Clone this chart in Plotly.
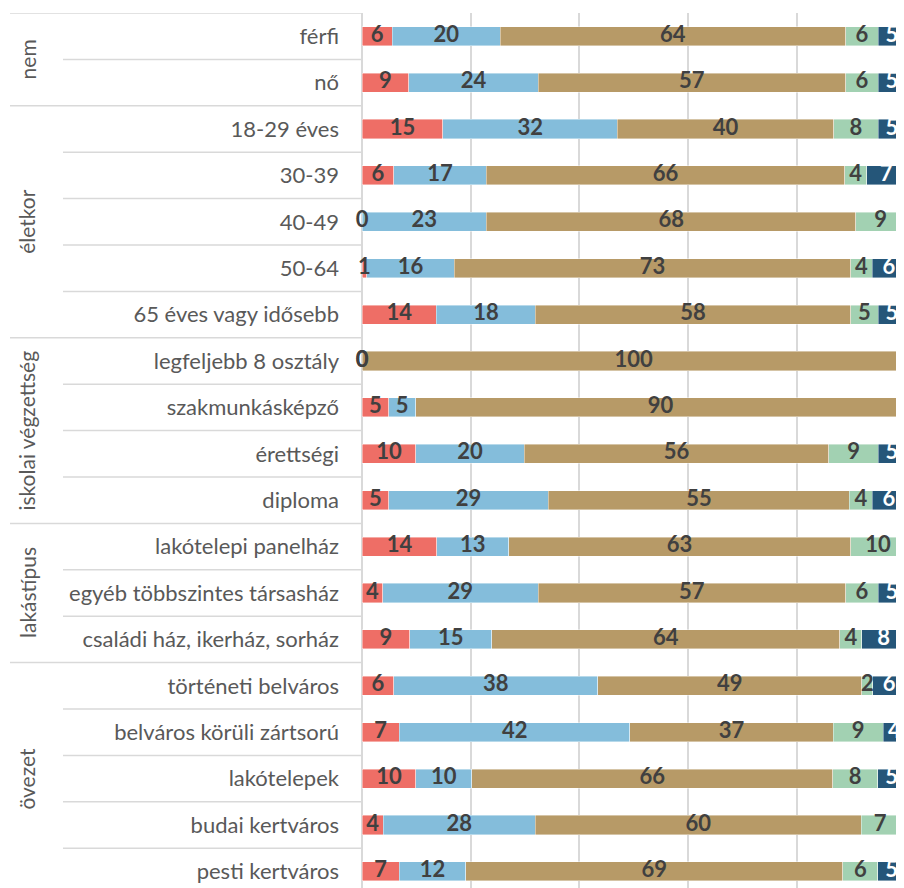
import plotly.graph_objects as go

# ---- data (segment sizes in %; labels are the rounded values) ----
groups = ["nem", "életkor", "iskolai végzettség", "lakástípus", "övezet"]
group_sizes = [2, 5, 4, 3, 5]
categories = [
    "férfi", "nő",
    "18-29 éves", "30-39", "40-49", "50-64", "65 éves vagy idősebb",
    "legfeljebb 8 osztály", "szakmunkásképző", "érettségi", "diploma",
    "lakótelepi panelház", "egyéb többszintes társasház", "családi ház, ikerház, sorház",
    "történeti belváros", "belváros körüli zártsorú", "lakótelepek", "budai kertváros", "pesti kertváros",
]
s1 = [5.6, 8.6, 14.9, 5.8, 0.0, 0.9, 13.7, 0.0, 4.9, 9.9, 4.9, 13.8, 3.8, 8.8, 5.8, 6.9, 9.9, 3.9, 6.9]
s2 = [19.8, 23.8, 32.1, 17.1, 22.9, 16.1, 18.2, 0.0, 5.0, 20.0, 29.4, 13.2, 28.6, 15.1, 37.6, 42.4, 10.3, 28.0, 12.2]
s3 = [63.6, 56.6, 39.8, 65.9, 68.0, 72.9, 58.0, 100.0, 90.1, 56.0, 55.4, 62.9, 56.6, 64.0, 48.6, 37.4, 66.4, 60.0, 69.4]
s4 = [6.0, 6.0, 8.2, 4.1, 9.1, 4.0, 5.1, 0.0, 0.0, 9.1, 4.2, 10.1, 6.0, 4.1, 2.0, 9.2, 8.3, 6.9, 6.4]
s5 = [5.0, 5.0, 5.0, 7.1, 0.0, 6.1, 5.0, 0.0, 0.0, 5.0, 6.1, 0.0, 5.0, 8.0, 6.0, 4.1, 5.1, 1.2, 5.1]
series = [s1, s2, s3, s4, s5]
colors = ["#EE6E66", "#84BDDB", "#B79A67", "#A2D1B2", "#255679"]
text_colors = ["#404040", "#404040", "#404040", "#404040", "#FFFFFF"]

# page body has an 8px margin; figure sized so it ends at the window edge
W, H = 896, 880
L, T = 354, 5
plot_w = W - L
px_per_unit = 5.434
row_h = 46.4

fig = go.Figure()
for vals, col in zip(series, colors):
    fig.add_trace(go.Bar(
        orientation="h", y=categories, x=vals,
        marker=dict(color=col, line=dict(color="rgba(255,255,255,0.6)", width=0.7)),
        hoverinfo="skip", showlegend=False,
    ))

# data labels centred on each segment (computed from the stacked values)
base = [0] * len(categories)
for vals, tcol in zip(series, text_colors):
    mids = [b + v / 2 for b, v in zip(base, vals)]
    fig.add_trace(go.Scatter(
        x=mids, y=categories, mode="text", text=[str(int(round(v))) for v in vals],
        textposition="middle center", cliponaxis=False,
        textfont=dict(family="Lato", size=22, color=tcol, weight="bold"),
        hoverinfo="skip", showlegend=False,
    ))
    base = [b + v for b, v in zip(base, vals)]

n = len(categories)
y_top = -0.5
y_bot = y_top + (H - T) / row_h

shapes = []
starts = []
acc = 0
for g in group_sizes:
    starts.append(acc)
    acc += g
x_long = (2 - L) / plot_w
x_short = (55 - L) / plot_w
for b in range(n + 1):
    yb = b - 0.5
    is_long = b in starts or b == n
    shapes.append(dict(type="line", xref="paper", yref="y",
                       x0=x_long if is_long else x_short, x1=0, y0=yb, y1=yb,
                       line=dict(color="#D9D9D9", width=1.5), layer="below"))

annotations = []
x_grp = (19 - L) / plot_w
for gname, st, sz in zip(groups, starts, group_sizes):
    annotations.append(dict(text=gname, xref="paper", yref="y", x=x_grp,
                            y=st + (sz - 1) / 2, textangle=-90, showarrow=False,
                            xanchor="center", yanchor="middle",
                            font=dict(family="Lato", size=21, color="#595959")))

fig.update_layout(
    width=W, height=H, barmode="stack", bargap=0.59,
    margin=dict(l=L, r=0, t=T, b=0, autoexpand=False),
    plot_bgcolor="white", paper_bgcolor="white",
    shapes=shapes, annotations=annotations,
    xaxis=dict(range=[0, plot_w / px_per_unit], dtick=20, showgrid=True,
               gridcolor="#D9D9D9", gridwidth=1.5, zeroline=True,
               zerolinecolor="#D9D9D9", zerolinewidth=2,
               showticklabels=False, fixedrange=True),
    yaxis=dict(range=[y_bot, y_top], showgrid=False, zeroline=False,
               tickfont=dict(family="Lato", size=22, color="#595959"),
               ticks="", ticklabelstandoff=22, automargin=False, fixedrange=True),
)

fig.write_html("out.html")
